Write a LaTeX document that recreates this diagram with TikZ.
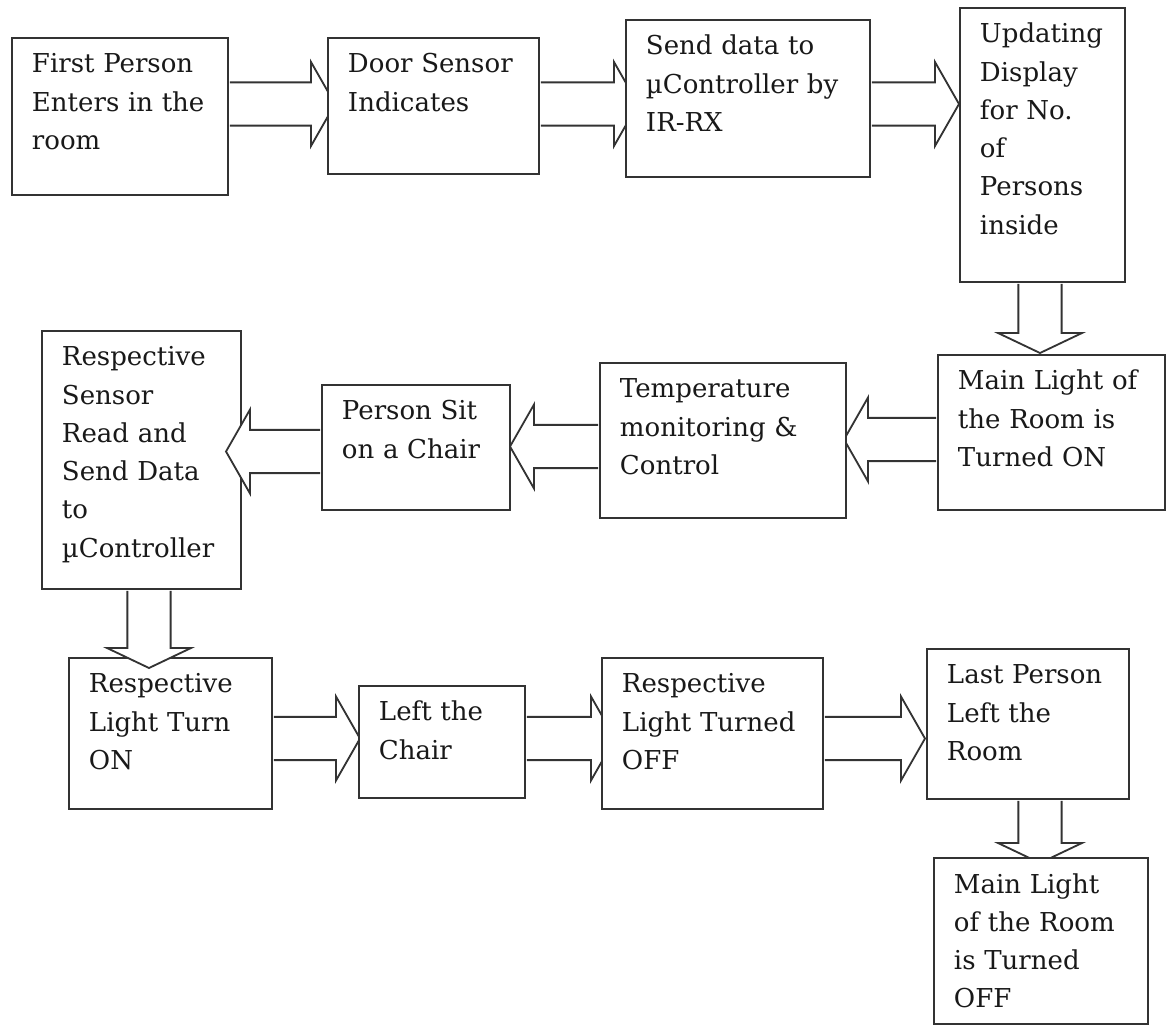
\documentclass[tikz,border=0pt]{standalone}
\usepackage{fontspec}
\setmainfont{DejaVu Serif}
\usetikzlibrary{calc, backgrounds}

% sizes of the hollow block arrows
\newcommand{\pxu}{0.025cm}
\newcommand{\shafthalf}{0.54cm}
\newcommand{\headhalf}{1.05cm}
\newcommand{\headlen}{0.6cm}
\newcommand{\vheadlen}{0.5cm}

% #1 source, #2 target, #3 axis position (px), #4 gap from head base to target (px)
\newcommand{\rightblock}[4]{%
  \draw[blockarr] let \p1=(#1.east |- 0,#3), \p2=(#2.west |- 0,#3) in
    ({\x1+0.6pt},{\y1+\shafthalf}) -- ({\x2-#4*\pxu},{\y1+\shafthalf})
    -- ({\x2-#4*\pxu},{\y1+\headhalf}) -- ({\x2-#4*\pxu+\headlen},\y1)
    -- ({\x2-#4*\pxu},{\y1-\headhalf}) -- ({\x2-#4*\pxu},{\y1-\shafthalf})
    -- ({\x1+0.6pt},{\y1-\shafthalf});}
\newcommand{\leftblock}[4]{%
  \draw[blockarr] let \p1=(#1.west |- 0,#3), \p2=(#2.east |- 0,#3) in
    ({\x1-0.6pt},{\y1+\shafthalf}) -- ({\x2+#4*\pxu},{\y1+\shafthalf})
    -- ({\x2+#4*\pxu},{\y1+\headhalf}) -- ({\x2+#4*\pxu-\headlen},\y1)
    -- ({\x2+#4*\pxu},{\y1-\headhalf}) -- ({\x2+#4*\pxu},{\y1-\shafthalf})
    -- ({\x1-0.6pt},{\y1-\shafthalf});}
\newcommand{\downblock}[4]{%
  \draw[blockarr] let \p1=(#1.south -| #3,0), \p2=(#2.north -| #3,0) in
    ({\x1-\shafthalf},{\y1-0.6pt}) -- ({\x1-\shafthalf},{\y2+#4*\pxu})
    -- ({\x1-\headhalf},{\y2+#4*\pxu}) -- (\x1,{\y2+#4*\pxu-\vheadlen})
    -- ({\x1+\headhalf},{\y2+#4*\pxu}) -- ({\x1+\shafthalf},{\y2+#4*\pxu})
    -- ({\x1+\shafthalf},{\y1-0.6pt});}

\begin{document}
\begin{tikzpicture}[
    x=0.025cm, y=-0.025cm,
    box/.style={draw=black!80, line width=1.4pt, fill=white, anchor=north west,
        inner xsep=0.5cm, inner ysep=0pt, align=left, text=black!90,
        font=\fontsize{18.5}{27.2}\selectfont, text height=0.875cm},
    blockarr/.style={draw=black!80, line width=1.3pt, fill=white, line join=miter},
]
\useasboundingbox (0,0) rectangle (1166,1026);

% first row
\node[box, text width=4.4cm, text depth=3.05cm] (enter) at (11,37) {First Person\\Enters in the\\room};
\node[box, text width=4.275cm, text depth=2.525cm] (door) at (327,37) {Door Sensor\\Indicates};
\node[box, text width=5.1cm, text depth=3.05cm] (send) at (625,19) {Send data to\\µController by\\IR-RX};
\node[box, text width=3.125cm, text depth=5.975cm] (update) at (959,7) {Updating\\Display\\for No.\\of\\Persons\\inside};

% second row
\node[box, text width=4.675cm, text depth=3.0cm] (mainon) at (937,354) {Main Light of\\the Room is\\Turned ON};
\node[box, text width=5.15cm, text depth=3.0cm] (temp) at (599,362) {Temperature\\monitoring \&\\Control};
\node[box, text width=3.7cm, text depth=2.25cm] (sit) at (321,384) {Person Sit\\on a Chair};
\node[box, text width=3.975cm, text depth=5.575cm] (sensor) at (41,330) {Respective\\Sensor\\Read and\\Send Data\\to\\µController};

% third row
\node[box, text width=4.075cm, text depth=2.9cm] (lighton) at (68,657) {Respective\\Light Turn\\ON};
\node[box, text width=3.15cm, text depth=1.925cm] (leftchair) at (358,685) {Left the\\Chair};
\node[box, text width=4.525cm, text depth=2.9cm] (lightoff) at (601,657) {Respective\\Light Turned\\OFF};
\node[box, text width=4.05cm, text depth=2.875cm] (last) at (926,648) {Last Person\\Left the\\Room};
\node[box, text width=4.35cm, text depth=3.275cm] (mainoff) at (933,857) {Main Light\\of the Room\\is Turned\\OFF};

% arrows whose heads go under the boxes
\begin{scope}[on background layer]
\rightblock{enter}{door}{104}{16}
\rightblock{door}{send}{104}{11}
\rightblock{send}{update}{104}{24}
\downblock{update}{mainon}{1040}{21}
\leftblock{mainon}{temp}{439.5}{21}
\leftblock{temp}{sit}{446.5}{23}
\rightblock{lighton}{leftchair}{738.5}{22}
\rightblock{leftchair}{lightoff}{738.5}{10}
\rightblock{lightoff}{last}{738.5}{25}
\downblock{last}{mainoff}{1040}{14}
\end{scope}

% arrows drawn over the boxes
\leftblock{sit}{sensor}{451.5}{8}
\downblock{sensor}{lighton}{149}{9}

\end{tikzpicture}
\end{document}
